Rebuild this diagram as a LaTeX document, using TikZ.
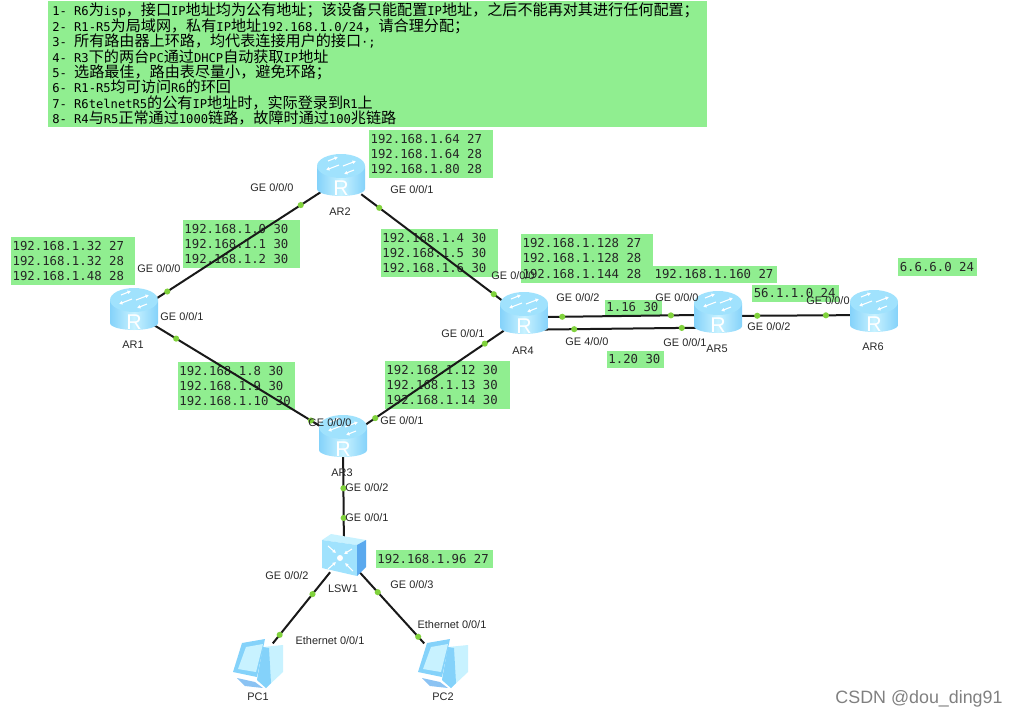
\documentclass[tikz,border=0pt]{standalone}
\usepackage{fontspec}
\setmainfont{Liberation Sans}
\setmonofont{DejaVu Sans Mono}
\newfontfamily\cjk[Scale=1.245]{Noto Sans CJK SC}
\usepackage{xcolor}
\usetikzlibrary{positioning,arrows.meta}
\definecolor{ipgreen}{HTML}{90EE90}
\definecolor{portgreen}{HTML}{80D23C}
\definecolor{skyA}{HTML}{84D2FA}
\definecolor{skyB}{HTML}{C8F2FF}
\definecolor{skyC}{HTML}{A0E2FD}
\definecolor{skyD}{HTML}{5AA9EE}
\newcommand{\zh}[1]{{\cjk #1}}

\begin{document}
\begin{tikzpicture}[
    x=0.75pt, y=-0.75pt,
    font=\fontsize{8.2}{10}\selectfont,
    ipbox/.style={fill=ipgreen, inner xsep=1.2pt, inner ysep=0pt, align=left, text=black!85, font=\ttfamily\fontsize{9.25}{11.6}\selectfont, execute at begin node={\spaceskip=.602em}},
    notes/.style={fill=ipgreen, inner sep=0pt, align=left, anchor=north west, minimum width=494pt, minimum height=94.5pt, text width=488pt, font=\ttfamily\fontsize{9.1}{11.55}\selectfont, execute at begin node={\spaceskip=.602em}},
    router/.style={inner sep=0pt, minimum width=30pt, minimum height=22.5pt},
    rletter/.style={inner sep=0pt, text=white, font=\fontsize{16}{16}\selectfont},
    switchnode/.style={inner sep=0pt, minimum width=30pt, minimum height=25.5pt},
    pcnode/.style={inner sep=0pt, minimum width=28pt, minimum height=29pt},
    link/.style={draw=black!90, line width=1.5pt},
    port/.style={circle, fill=portgreen, inner sep=0pt, minimum size=4.6pt},
    icon/.style={-{Latex[length=2.6pt,width=3pt]}, white, line width=.8pt},
    tag/.style={text=black!85}
]
\useasboundingbox (0,0) rectangle (1020,718);

% task list
\node[notes] (tasks) at (48,1) {%
1- R6\zh{为}isp\zh{，接口}IP\zh{地址均为公有地址；该设备只能配置}IP\zh{地址，之后不能再对其进行任何配置；}\\
2- R1-R5\zh{为局域网，私有}IP\zh{地址}192.168.1.0/24\zh{，请合理分配；}\\
3- \zh{所有路由器上环路，均代表连接用户的接口}·;\\
4- R3\zh{下的两台}PC\zh{通过}DHCP\zh{自动获取}IP\zh{地址}\\
5- \zh{选路最佳，路由表尽量小，避免环路；}\\
6- R1-R5\zh{均可访问}R6\zh{的环回}\\
7- R6telnetR5\zh{的公有}IP\zh{地址时，实际登录到}R1\zh{上}\\
8- R4\zh{与}R5\zh{正常通过}1000\zh{链路，故障时通过}100\zh{兆链路}};

% address blocks
\node[ipbox, text width=90.6pt, minimum height=36pt] (ipA) at (73,261) {192.168.1.32 27\\192.168.1.32 28\\192.168.1.48 28};
\node[ipbox, text width=90.6pt, minimum height=36pt] (ipB) at (431,154) {192.168.1.64 27\\192.168.1.64 28\\192.168.1.80 28};
\node[ipbox, text width=85.6pt, minimum height=36pt] (ipC) at (241.5,244) {192.168.1.0 30\\192.168.1.1 30\\192.168.1.2 30};
\node[ipbox, text width=85.6pt, minimum height=36pt] (ipD) at (439.5,253) {192.168.1.4 30\\192.168.1.5 30\\192.168.1.6 30};
\node[ipbox, text width=85.6pt, minimum height=36pt] (ipE) at (236.5,386) {192.168.1.8 30\\192.168.1.9 30\\192.168.1.10 30};
\node[ipbox, text width=91.6pt, minimum height=36pt] (ipF) at (447.5,385) {192.168.1.12 30\\192.168.1.13 30\\192.168.1.14 30};
\node[ipbox, text width=96.6pt, minimum height=37pt] (ipG) at (587,258.5) {192.168.1.128 27\\192.168.1.128 28\\192.168.1.144 28};
\node[ipbox, text width=90.6pt, minimum height=13pt] (ipH) at (715,274.5) {192.168.1.160 27};
\node[ipbox, text width=56.6pt, minimum height=13pt] (ipI) at (937.5,267) {6.6.6.0 24};
\node[ipbox, text width=62.6pt, minimum height=13pt] (ipJ) at (795.5,293.5) {56.1.1.0 24};
\node[ipbox, text width=40.6pt, minimum height=11pt] (ipK) at (633.5,307.5) {1.16 30};
\node[ipbox, text width=40.6pt, minimum height=13pt] (ipL) at (635.5,359.5) {1.20 30};
\node[ipbox, text width=85.6pt, minimum height=13pt] (ipM) at (434.5,559) {192.168.1.96 27};

% devices
\node[router] (ar1) at (134,313) {};
\node[router] (ar2) at (341,179) {};
\node[router] (ar3) at (343,440) {};
\node[router] (ar4) at (524,317) {};
\node[router] (ar5) at (718,316) {};
\node[router] (ar6) at (874,315) {};
\node[switchnode] (lsw1) at (344,555) {};
\node[pcnode] (pc1) at (257,663) {};
\node[pcnode] (pc2) at (442,663) {};

% links
\draw[link] (ar1) -- node[port,pos=.078] (d1) {} node[port,pos=.88] (d2) {} (ar2);
\draw[link] (ar2) -- node[port,pos=.126] (d3) {} node[port,pos=.93] (d4) {} (ar4);
\draw[link] (ar1) -- node[port,pos=.13] (d5) {} node[port,pos=.93] (d6) {} (ar3);
\draw[link] (ar3) -- node[port,pos=.085] (d7) {} node[port,pos=.865] (d8) {} (ar4);
\draw[link] (ar4.east) -- node[port,pos=.117] (d9) {} node[port,pos=.825] (d10) {} ([yshift=.75pt]ar5.west);
\draw[link] ([yshift=-9.4pt]ar4.east) -- node[port,pos=.195] (d11) {} node[port,pos=.896] (d12) {} ([yshift=-8.8pt]ar5.west);
\draw[link] (ar5) -- node[port,pos=.164] (d13) {} node[port,pos=.759] (d14) {} (ar6);
\draw[link] (ar3) -- node[port,pos=.40] (d15) {} node[port,pos=.76] (d16) {} (lsw1);
\draw[link] (lsw1) -- node[port,pos=.307] (d17) {} node[port,pos=.88] (d18) {} (pc1);
\draw[link] (lsw1) -- node[port,pos=.28] (d19) {} node[port,pos=.907] (d20) {} (pc2);

% router icons
\foreach \rt in {ar1,ar2,ar3,ar4,ar5,ar6} {
    \begin{scope}[shift={(\rt)}]
        \shade[left color=skyA, right color=skyA, middle color=skyB] (-24,-13) -- (-24,10) arc (180:0:24 and 7) -- (24,-13) -- cycle;
        \fill[skyC] (0,-13) ellipse (24 and 12);
        \draw[icon] (-2,-14) -- (-15,-9);
        \draw[icon] (2,-13) -- (15,-18);
        \draw[icon] (-13,-18) -- (-3,-22);
        \draw[icon] (13,-9) -- (3,-5);
        \node[rletter] (\rt r) at (0,9) {R};
    \end{scope}
}

% switch icon
\begin{scope}[shift={(lsw1)}]
    \fill[skyB] (-22,-15) -- (-13,-21) -- (22,-15) -- (13,-10) -- cycle;
    \fill[skyC] (-22,-15) -- (13,-10) -- (13,21) -- (-22,13) -- cycle;
    \fill[skyD] (13,-10) -- (22,-15) -- (22,12) -- (13,21) -- cycle;
    \fill[white] (-4,3) circle (3);
    \draw[icon] (-16,-9) -- (-8,-2);
    \draw[icon] (8,-6) -- (0,-1);
    \draw[icon] (-16,14) -- (-8,7);
    \draw[icon] (9,16) -- (1,8);
\end{scope}

% pc icons
\foreach \pc in {pc1,pc2} {
    \begin{scope}[shift={(\pc)}]
        \fill[skyB] (6,-16) -- (26,-18) -- (26,9) -- (9,25) -- (0,17) -- cycle;
        \fill[skyA] (6,-16) -- (12,-15) -- (14,20) -- (9,25) -- (0,17) -- cycle;
        \fill[skyD!70] (-20,15) -- (-2,19) -- (6,25) -- (-12,23) -- cycle;
        \fill[skyA] (-15,-20) -- (8,-24) -- (0,14) -- (-24,9) -- cycle;
        \fill[skyB] (-11,-16) -- (6,-19) -- (-1,9) -- (-19,6) -- cycle;
    \end{scope}
}

% device names
\node[tag] (nA) at (133,345) {AR1};
\node[tag] (nB) at (340,212) {AR2};
\node[tag] (nC) at (342,473) {AR3};
\node[tag] (nD) at (523,351) {AR4};
\node[tag] (nE) at (717,349) {AR5};
\node[tag] (nF) at (873,347) {AR6};
\node[tag] (nG) at (343,589) {LSW1};
\node[tag] (nH) at (258,697) {PC1};
\node[tag] (nI) at (443,697) {PC2};

% port names
\node[tag] (t1) at (159,269) {GE 0/0/0};
\node[tag] (t2) at (182,317) {GE 0/0/1};
\node[tag] (t3) at (272,188) {GE 0/0/0};
\node[tag] (t4) at (412,190) {GE 0/0/1};
\node[tag] (t5) at (513,276) {GE 0/0/0};
\node[tag] (t6) at (463,334) {GE 0/0/1};
\node[tag] (t7) at (578,298) {GE 0/0/2};
\node[tag] (t8) at (587,342) {GE 4/0/0};
\node[tag] (t9) at (677,298) {GE 0/0/0};
\node[tag] (t10) at (685,343) {GE 0/0/1};
\node[tag] (t11) at (769,327) {GE 0/0/2};
\node[tag] (t12) at (828,301) {GE 0/0/0};
\node[tag] (t13) at (330,423) {GE 0/0/0};
\node[tag] (t14) at (402,421) {GE 0/0/1};
\node[tag] (t15) at (367,488) {GE 0/0/2};
\node[tag] (t16) at (367,518) {GE 0/0/1};
\node[tag] (t17) at (287,576) {GE 0/0/2};
\node[tag] (t18) at (412,585) {GE 0/0/3};
\node[tag] (t19) at (330,641) {Ethernet 0/0/1};
\node[tag] (t20) at (452,625) {Ethernet 0/0/1};

\node[text=black!50, font=\fontsize{13.4}{15}\selectfont] (mark) at (919,699) {CSDN @dou\_ding91};
\end{tikzpicture}
\end{document}
